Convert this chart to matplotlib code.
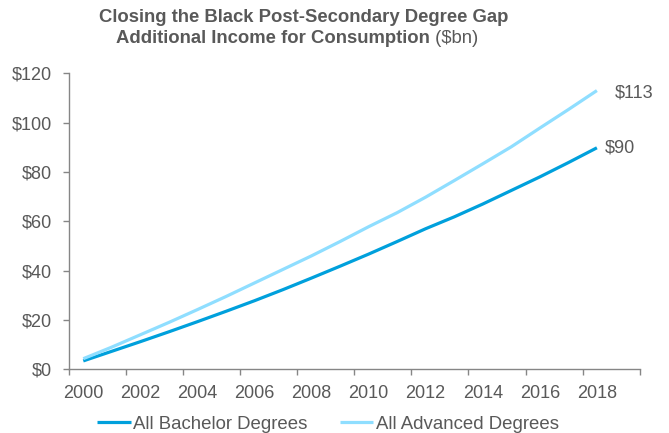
import matplotlib
matplotlib.use("Agg")
import matplotlib.pyplot as plt
import numpy as np

plt.rcParams['font.family'] = ['Liberation Sans', 'DejaVu Sans']

# data ($bn)
years = list(range(2000, 2019))
bachelor = [3.4, 7.3, 11.2, 15.2, 19.3, 23.5, 27.8, 32.3, 37.0, 41.8,
            46.7, 51.8, 57.0, 61.8, 67.0, 72.5, 78.0, 83.8, 89.8]
advanced = [4.3, 9.0, 14.0, 19.0, 24.2, 29.5, 35.0, 40.5, 46.0, 51.8,
            57.8, 63.5, 69.8, 76.5, 83.3, 90.2, 97.8, 105.3, 113.0]
series_names = ["All Bachelor Degrees", "All Advanced Degrees"]
end_labels = ["$90", "$113"]
y_ticks = [0, 20, 40, 60, 80, 100, 120]
x_labels = list(range(2000, 2019, 2))

DARK_BLUE = '#00A0DC'
LIGHT_BLUE = '#8FDEFF'
TEXT = '#595959'
AXIS = '#868686'

W, H = 669, 433
fig = plt.figure(figsize=(W / 100, H / 100), dpi=100, facecolor='white')
ax = fig.add_axes([69 / W, 1 - 369.3 / H, (639.7 - 69) / W, (369.3 - 73.3) / H])

l1, = ax.plot(years, bachelor, color=DARK_BLUE, lw=2.3, solid_capstyle='butt')
l2, = ax.plot(years, advanced, color=LIGHT_BLUE, lw=2.3, solid_capstyle='butt')

ax.set_xlim(1999.5, 2019.5)
ax.set_ylim(0, 120)

# y axis
ax.set_yticks(y_ticks)
ax.set_yticklabels([f"${v}" for v in y_ticks])
ax.tick_params(axis='y', direction='out', length=4, width=1, color=AXIS,
               labelsize=13, labelcolor=TEXT, pad=8)

# x axis: tick marks between category pairs, labels on the categories
ax.set_xticks(np.arange(1999.5, 2020, 2))
ax.set_xticklabels([])
ax.set_xticks(x_labels, minor=True)
ax.set_xticklabels([str(y) for y in x_labels], minor=True)
ax.tick_params(axis='x', which='major', direction='out', length=4, width=1, color=AXIS)
ax.tick_params(axis='x', which='minor', length=0, labelsize=13, labelcolor=TEXT, pad=11)

for s in ['top', 'right']:
    ax.spines[s].set_visible(False)
for s in ['left', 'bottom']:
    ax.spines[s].set_color(AXIS)
    ax.spines[s].set_linewidth(1)

# end labels
ax.annotate(end_labels[0], (years[-1], bachelor[-1]), xytext=(6, -0.3), textcoords='offset points',
            ha='left', va='center', fontsize=13, color=TEXT)
ax.annotate(end_labels[1], (years[-1], advanced[-1]), xytext=(13, -1.6), textcoords='offset points',
            ha='left', va='center', fontsize=13, color=TEXT)

# title
fig.text(303.5 / W, 1 - 18 / H, "Closing the Black Post-Secondary Degree Gap",
         ha='center', va='center', fontsize=13.3, fontweight='bold', color=TEXT)
r = fig.canvas.get_renderer()
t_bold = fig.text(0, 1 - 38.5 / H, "Additional Income for Consumption",
                  ha='left', va='center', fontsize=13.3, fontweight='bold', color=TEXT)
t_norm = fig.text(0, 1 - 38.5 / H, " ($bn)",
                  ha='left', va='center', fontsize=13.3, color=TEXT)
wb = t_bold.get_window_extent(r).width
wn = t_norm.get_window_extent(r).width
x0 = 297.5 - (wb + wn) / 2
t_bold.set_x(x0 / W)
t_norm.set_x((x0 + wb) / W)

# legend
fig.legend([l1, l2], series_names, loc='center', bbox_to_anchor=(328 / W, 1 - 424 / H),
           ncol=2, frameon=False, fontsize=13.4, labelcolor=TEXT,
           handlelength=1.8, handletextpad=0.15, columnspacing=1.7)

fig.savefig('out.png', dpi=100, facecolor='white')
